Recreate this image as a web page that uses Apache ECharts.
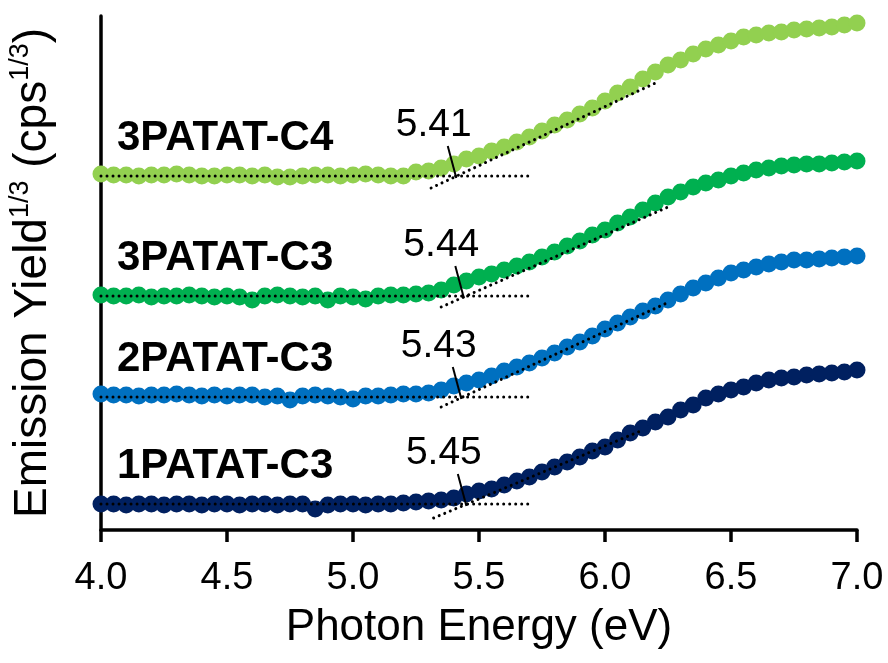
<!DOCTYPE html>
<html>
<head>
<meta charset="utf-8">
<script src="https://cdn.jsdelivr.net/npm/echarts@6/dist/echarts.min.js"></script>
<style>
  html, body { margin: 0; padding: 0; background: #fff; }
  #chart { width: 888px; height: 663px; }
</style>
</head>
<body>
<div id="chart"></div>
<script>
// Photoelectron yield spectra (cube-root yield, offset per compound)
const sampleNames = ['1PATAT-C3', '2PATAT-C3', '3PATAT-C3', '3PATAT-C4'];
const sampleColors = ['#002060', '#0070C0', '#00B050', '#92D050'];

// photon energy grid, 4.00 - 7.00 eV in 0.05 eV steps
const energy = Array.from({ length: 61 }, (_, i) => +(4 + i * 0.05).toFixed(2));

const yield1PATATC3 = [
  2.6, 2.6, 2.5, 2.6, 2.6, 2.5, 2.6, 2.6, 2.5, 2.6, 2.6, 2.5, 2.6, 2.6, 2.5, 2.6, 2.6, 2.1, 2.5, 2.6,
  2.6, 2.5, 2.6, 2.6, 2.7, 2.8, 2.9, 3.0, 3.2, 3.6, 3.9, 4.1, 4.5, 4.9, 5.3, 5.8, 6.3, 6.8, 7.3, 7.9,
  8.3, 9.0, 9.7, 10.2, 10.8, 11.3, 12.0, 12.5, 13.2, 13.6, 14.0, 14.3, 14.7, 15.0, 15.2, 15.3, 15.5, 15.6, 15.7, 15.8,
  16.0
];
const yield2PATATC3 = [
  13.6, 13.5, 13.5, 13.4, 13.5, 13.5, 13.6, 13.5, 13.4, 13.5, 13.4, 13.5, 13.5, 13.3, 13.4, 13.0, 13.4, 13.5, 13.4, 13.3,
  13.1, 13.4, 13.4, 13.5, 13.6, 13.6, 13.7, 14.0, 14.4, 14.7, 15.0, 15.4, 15.9, 16.3, 16.7, 17.2, 17.7, 18.3, 18.8, 19.4,
  20.1, 20.7, 21.3, 21.9, 22.4, 23.0, 23.6, 24.2, 24.7, 25.2, 25.7, 26.0, 26.3, 26.6, 26.8, 27.0, 27.0, 27.1, 27.2, 27.3,
  27.4
];
const yield3PATATC3 = [
  23.5, 23.4, 23.4, 23.5, 23.3, 23.4, 23.4, 23.5, 23.4, 23.3, 23.4, 23.3, 23.0, 23.4, 23.5, 23.4, 23.3, 23.4, 23.0, 23.4,
  23.3, 23.1, 23.4, 23.5, 23.5, 23.6, 23.7, 24.0, 24.5, 24.9, 25.3, 25.6, 26.0, 26.4, 26.8, 27.3, 27.8, 28.4, 28.9, 29.5,
  30.0, 30.7, 31.3, 32.0, 32.7, 33.3, 33.8, 34.3, 34.7, 35.0, 35.4, 35.7, 36.0, 36.2, 36.4, 36.5, 36.6, 36.6, 36.7, 36.8,
  36.9
];
const yield3PATATC4 = [
  35.6, 35.5, 35.5, 35.4, 35.5, 35.5, 35.6, 35.5, 35.4, 35.4, 35.5, 35.5, 35.4, 35.5, 35.3, 35.3, 35.4, 35.5, 35.5, 35.4,
  35.5, 35.6, 35.5, 35.4, 35.4, 35.8, 35.9, 36.2, 36.6, 37.1, 37.4, 37.9, 38.3, 38.8, 39.3, 39.9, 40.5, 41.0, 41.6, 42.2,
  42.9, 43.7, 44.3, 45.1, 45.8, 46.5, 47.0, 47.6, 48.1, 48.5, 48.9, 49.3, 49.5, 49.7, 49.8, 50.0, 50.1, 50.2, 50.3, 50.5,
  50.7
];
const yieldSets = [yield1PATATC3, yield2PATATC3, yield3PATATC3, yield3PATATC4];

// threshold analysis: background level, linear fit of the rise, onset energy (eV)
const baseLevels = [2.6, 13.3, 23.4, 35.4];
const baseFitRange = [4.0, 5.7];
const riseFitFrom = [[5.32, 1.2], [5.35, 12.3], [5.35, 22.3], [5.31, 34.2]];
const riseFitTo = [[6.15, 10.0], [6.245, 22.7], [6.25, 32.3], [6.20, 44.7]];
const onsets = [5.45, 5.43, 5.44, 5.41];

// x-axis ticks
const xMin = 4.0, xMax = 7.0, xStep = 0.5;

const FONT = '"Liberation Sans", Arial, Helvetica, sans-serif';
const dotted = { color: '#000', width: 3, type: [0.01, 6], cap: 'round' };
const solidText = { opacity: 1 };

const series = [];
yieldSets.forEach((vals, k) => {
  series.push({
    type: 'scatter',
    name: sampleNames[k],
    data: energy.map((e, i) => [e, vals[i]]),
    symbol: 'circle',
    symbolSize: 17,
    itemStyle: { color: sampleColors[k], opacity: 1 },
    z: 2,
    silent: true
  });
});
baseLevels.forEach((lvl, k) => {
  // flat background fit
  series.push({
    type: 'line',
    data: [[baseFitRange[0], lvl], [baseFitRange[1], lvl]],
    symbol: 'none',
    lineStyle: dotted,
    z: 4, silent: true
  });
  // linear fit of the rising edge
  series.push({
    type: 'line',
    data: [riseFitFrom[k], riseFitTo[k]],
    symbol: 'none',
    lineStyle: dotted,
    z: 4, silent: true
  });
  // onset marker: short slanted stroke ending at the onset energy
  const top = [onsets[k] - 0.034, lvl + 3.0];
  series.push({
    type: 'line',
    data: [top, [onsets[k], lvl - 0.2]],
    symbol: 'none',
    lineStyle: { color: '#000', width: 2 },
    z: 5, silent: true
  });
  // onset value text
  series.push({
    type: 'scatter',
    data: [top],
    symbolSize: 0,
    silent: true,
    z: 6,
    itemStyle: solidText,
    label: {
      show: true,
      position: 'inside',
      offset: [-14, -21],
      formatter: onsets[k].toFixed(2),
      fontSize: 39,
      fontFamily: FONT,
      color: '#000',
      opacity: 1,
      align: 'center',
      verticalAlign: 'middle'
    }
  });
  // compound name
  series.push({
    type: 'scatter',
    data: [[xMin, lvl]],
    symbolSize: 0,
    silent: true,
    z: 6,
    itemStyle: solidText,
    label: {
      show: true,
      position: 'inside',
      offset: [16, -38],
      formatter: sampleNames[k],
      fontSize: 42,
      fontWeight: 'bold',
      fontFamily: FONT,
      color: '#000',
      opacity: 1,
      align: 'left',
      verticalAlign: 'middle'
    }
  });
});

const chart = echarts.init(document.getElementById('chart'), null, { renderer: 'canvas' });
chart.setOption({
  animation: false,
  backgroundColor: '#fff',
  textStyle: { fontFamily: FONT },
  grid: { left: 101, right: 31, top: 16, bottom: 133, containLabel: false, outerBoundsMode: 'none' },
  xAxis: {
    type: 'value',
    min: xMin, max: xMax, interval: xStep,
    axisLine: { show: true, onZero: false, lineStyle: { color: '#000', width: 3.5 } },
    axisTick: { show: true, length: 12, lineStyle: { color: '#000', width: 3.5 } },
    axisLabel: {
      fontSize: 38, color: '#000', margin: 30, fontFamily: FONT,
      formatter: v => v.toFixed(1)
    },
    splitLine: { show: false },
    name: 'Photon Energy (eV)',
    nameLocation: 'middle',
    nameGap: 76,
    nameTextStyle: { fontSize: 44, color: '#000', fontFamily: FONT }
  },
  yAxis: {
    type: 'value',
    min: 0, max: 51.4,
    axisLine: { show: true, onZero: false, lineStyle: { color: '#000', width: 3.5 } },
    axisTick: { show: false },
    axisLabel: { show: false },
    splitLine: { show: false },
    name: 'Emission Yield{sup|1/3} (cps{sup|1/3})',
    nameLocation: 'middle',
    nameRotate: 90,
    nameGap: 42,
    nameTextStyle: {
      fontSize: 46, color: '#000', fontFamily: FONT, lineHeight: 52,
      rich: {
        sup: { fontSize: 27, lineHeight: 27, verticalAlign: 'top', color: '#000', fontFamily: FONT }
      }
    }
  },
  series: series
});
</script>
</body>
</html>
